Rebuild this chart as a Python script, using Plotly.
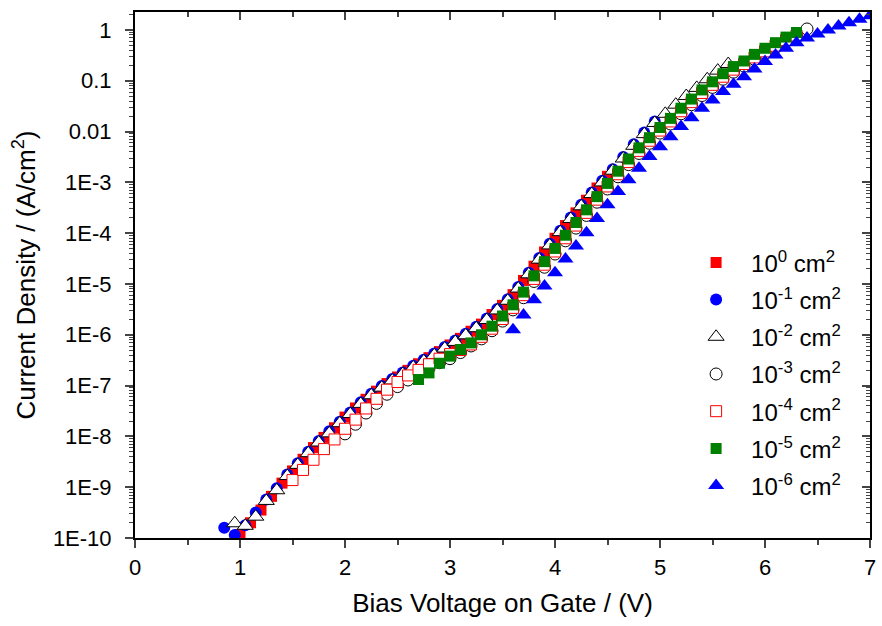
import plotly.graph_objects as go

# Gate bias (V) and log10 current density (A/cm^2) for each device area
v_a0 = [1.0, 1.1, 1.2, 1.3, 1.4, 1.5, 1.6, 1.7, 1.8, 1.9,
        2.0, 2.1, 2.2, 2.3, 2.4, 2.5, 2.6, 2.7, 2.8, 2.9,
        3.0, 3.1, 3.2, 3.3, 3.4, 3.5, 3.6, 3.7, 3.8, 3.9,
        4.0, 4.1, 4.2, 4.3, 4.4, 4.5]
logj_a0 = [-9.93, -9.70, -9.45, -9.18, -8.92, -8.68, -8.45, -8.22, -8.02, -7.83,
           -7.62, -7.44, -7.27, -7.11, -6.96, -6.83, -6.70, -6.57, -6.45, -6.33,
           -6.20, -6.07, -5.93, -5.79, -5.60, -5.42, -5.21, -4.93, -4.65, -4.37,
           -4.10, -3.85, -3.60, -3.35, -3.11, -2.88]

v_a1 = [0.85, 0.95,
        1.05, 1.15, 1.25, 1.35, 1.45, 1.55, 1.65, 1.75, 1.85, 1.95,
        2.05, 2.15, 2.25, 2.35, 2.45, 2.55, 2.65, 2.75, 2.85, 2.95,
        3.05, 3.15, 3.25, 3.35, 3.45, 3.55, 3.65, 3.75, 3.85, 3.95,
        4.05, 4.15, 4.25, 4.35, 4.45, 4.55, 4.65, 4.75, 4.85, 4.95]
logj_a1 = [-9.80, -9.94,
           -9.75, -9.50, -9.24, -9.02, -8.75, -8.53, -8.30, -8.09, -7.90, -7.71,
           -7.53, -7.33, -7.16, -7.01, -6.87, -6.74, -6.61, -6.49, -6.37, -6.24,
           -6.11, -5.98, -5.84, -5.68, -5.49, -5.30, -5.06, -4.78, -4.49, -4.21,
           -3.95, -3.69, -3.44, -3.20, -2.97, -2.74, -2.50, -2.25, -2.02, -1.80]

v_a2 = [0.95,
        1.05, 1.15, 1.25, 1.35, 1.45, 1.55, 1.65, 1.75, 1.85, 1.95,
        2.05, 2.15, 2.25, 2.35, 2.45, 2.55, 2.65, 2.75, 2.85, 2.95,
        3.05, 3.15, 3.25, 3.35, 3.45, 3.55, 3.65, 3.75, 3.85, 3.95,
        4.05, 4.15, 4.25, 4.35, 4.45, 4.55, 4.65, 4.75, 4.85, 4.95,
        5.05, 5.15, 5.25, 5.35, 5.45, 5.55, 5.65]
logj_a2 = [-9.71,
           -9.76, -9.58, -9.27, -9.06, -8.78, -8.56, -8.33, -8.12, -7.94, -7.74,
           -7.56, -7.36, -7.19, -7.04, -6.90, -6.77, -6.64, -6.52, -6.40, -6.27,
           -6.14, -6.01, -5.87, -5.71, -5.52, -5.33, -5.09, -4.81, -4.52, -4.24,
           -3.98, -3.72, -3.47, -3.23, -3.00, -2.77, -2.53, -2.28, -2.05, -1.83,
           -1.65, -1.47, -1.30, -1.14, -0.97, -0.80, -0.67]

v_a3 = [2.0, 2.1, 2.2, 2.3, 2.4, 2.5, 2.6, 2.7, 2.8, 2.9,
        3.0, 3.1, 3.2, 3.3, 3.4, 3.5, 3.6, 3.7, 3.8, 3.9,
        4.0, 4.1, 4.2, 4.3, 4.4, 4.5, 4.6, 4.7, 4.8, 4.9,
        5.0, 5.1, 5.2, 5.3, 5.4, 5.5, 5.6, 5.7, 5.8, 5.9,
        6.0, 6.1, 6.2, 6.3, 6.4]
logj_a3 = [-7.95, -7.76, -7.54, -7.35, -7.17, -7.02, -6.89, -6.77, -6.66, -6.55,
           -6.47, -6.35, -6.22, -6.08, -5.92, -5.73, -5.51, -5.27, -4.95, -4.67,
           -4.41, -4.15, -3.90, -3.65, -3.39, -3.13, -2.89, -2.65, -2.43, -2.23,
           -2.03, -1.85, -1.65, -1.47, -1.29, -1.13, -0.97, -0.83, -0.71, -0.58,
           -0.46, -0.35, -0.22, -0.11, 0.02]

v_a4 = [1.5, 1.6, 1.7, 1.8, 1.9,
        2.0, 2.1, 2.2, 2.3, 2.4, 2.5, 2.6, 2.7, 2.8, 2.9,
        3.0, 3.1, 3.2, 3.3, 3.4, 3.5, 3.6, 3.7, 3.8, 3.9,
        4.0, 4.1, 4.2, 4.3, 4.4, 4.5, 4.6, 4.7, 4.8, 4.9,
        5.0, 5.1, 5.2, 5.3, 5.4, 5.5, 5.6, 5.7, 5.8, 5.9,
        6.0, 6.1, 6.2, 6.3]
logj_a4 = [-8.86, -8.66, -8.46, -8.25, -8.06,
           -7.85, -7.67, -7.45, -7.26, -7.08, -6.93, -6.80, -6.69, -6.58, -6.47,
           -6.38, -6.30, -6.19, -6.04, -5.88, -5.69, -5.47, -5.22, -4.90, -4.62,
           -4.36, -4.10, -3.85, -3.60, -3.34, -3.08, -2.84, -2.60, -2.38, -2.18,
           -1.98, -1.80, -1.60, -1.42, -1.24, -1.08, -0.92, -0.78, -0.67, -0.54,
           -0.42, -0.31, -0.20, -0.11]

v_a5 = [2.7, 2.8, 2.9,
        3.0, 3.1, 3.2, 3.3, 3.4, 3.5, 3.6, 3.7, 3.8, 3.9,
        4.0, 4.1, 4.2, 4.3, 4.4, 4.5, 4.6, 4.7, 4.8, 4.9,
        5.0, 5.1, 5.2, 5.3, 5.4, 5.5, 5.6, 5.7, 5.8, 5.9,
        6.0, 6.1, 6.2, 6.3]
logj_a5 = [-6.88, -6.75, -6.56,
           -6.42, -6.29, -6.16, -6.00, -5.83, -5.63, -5.41, -5.16, -4.84, -4.56,
           -4.30, -4.04, -3.79, -3.54, -3.28, -3.02, -2.78, -2.54, -2.32, -2.12,
           -1.92, -1.74, -1.54, -1.36, -1.18, -1.02, -0.86, -0.72, -0.61, -0.48,
           -0.36, -0.25, -0.14, -0.05]

v_a6 = [3.6, 3.7, 3.8, 3.9,
        4.0, 4.1, 4.2, 4.3, 4.4, 4.5, 4.6, 4.7, 4.8, 4.9,
        5.0, 5.1, 5.2, 5.3, 5.4, 5.5, 5.6, 5.7, 5.8, 5.9,
        6.0, 6.1, 6.2, 6.3, 6.4, 6.5, 6.6, 6.7, 6.8, 6.9, 7.0]
logj_a6 = [-5.90, -5.61, -5.31, -5.04,
           -4.78, -4.51, -4.25, -3.99, -3.71, -3.44, -3.18, -2.95, -2.72, -2.49,
           -2.30, -2.10, -1.90, -1.73, -1.54, -1.38, -1.21, -1.07, -0.92, -0.77,
           -0.62, -0.49, -0.36, -0.25, -0.16, -0.08, 0.00, 0.08, 0.14, 0.21, 0.28]

series_names = ["10<sup>0</sup> cm<sup>2</sup>", "10<sup>-1</sup> cm<sup>2</sup>",
                "10<sup>-2</sup> cm<sup>2</sup>", "10<sup>-3</sup> cm<sup>2</sup>",
                "10<sup>-4</sup> cm<sup>2</sup>", "10<sup>-5</sup> cm<sup>2</sup>",
                "10<sup>-6</sup> cm<sup>2</sup>"]

y_tickvals = [1e-10, 1e-9, 1e-8, 1e-7, 1e-6, 1e-5, 1e-4, 1e-3, 1e-2, 1e-1, 1]
y_ticktext = ["1E-10", "1E-9", "1E-8", "1E-7", "1E-6", "1E-5", "1E-4", "1E-3",
              "0.01", "0.1", "1"]
x_tickvals = [0, 1, 2, 3, 4, 5, 6, 7]

# marker style per series: (symbol, fill, outline colour, outline width, size)
styles = [
    ("square", "#ff0000", "#ff0000", 0, 11),
    ("circle", "#0000ff", "#0000ff", 0, 12),
    ("triangle-up", "white", "black", 1, 14),
    ("circle", "white", "black", 1, 12),
    ("square", "white", "#ff0000", 1, 11),
    ("square", "#008000", "#008000", 0, 11),
    ("triangle-up", "#0000ff", "#0000ff", 0, 14),
]

data = [(v_a0, logj_a0), (v_a1, logj_a1), (v_a2, logj_a2), (v_a3, logj_a3),
        (v_a4, logj_a4), (v_a5, logj_a5), (v_a6, logj_a6)]

FONT = "Liberation Sans, Arial, sans-serif"

fig = go.Figure()
for i, ((vx, lj), name, st) in enumerate(zip(data, series_names, styles)):
    sym, fill, edge, lw, size = st
    fig.add_trace(go.Scatter(
        x=vx, y=[10 ** v for v in lj], mode="markers", name=name,
        legendgroup=f"g{i}",
        marker=dict(symbol=sym, color=fill, size=size,
                    line=dict(color=edge, width=lw)),
    ))

# empty trace so the mirrored top/right axes are drawn
fig.add_trace(go.Scatter(x=[], y=[], xaxis="x2", yaxis="y2", showlegend=False,
                         hoverinfo="skip"))

minor_y = [k * 10.0 ** n for n in range(-10, 1) for k in range(2, 10)]
yrange = [-10, 0.354]

fig.update_layout(
    width=882, height=626,
    margin=dict(l=135, r=6, t=12, b=88),
    paper_bgcolor="white", plot_bgcolor="white",
    font=dict(family=FONT, size=22, color="black"),
    showlegend=True,
    legend=dict(x=0.743, y=0.566, xanchor="left", yanchor="top",
                bgcolor="rgba(0,0,0,0)", font=dict(size=24, family=FONT),
                tracegroupgap=3, itemwidth=60, itemsizing="trace"),
    xaxis=dict(range=[0, 7], tickvals=x_tickvals, ticks="outside", ticklen=8,
               tickwidth=2, linewidth=2, linecolor="black", showline=True,
               showgrid=False, zeroline=False, ticklabeloverflow="allow",
               tickfont=dict(size=22, family=FONT), ticklabelstandoff=1,
               minor=dict(dtick=0.5, ticks="outside", ticklen=5, tickwidth=2,
                          showgrid=False),
               title=dict(text="Bias Voltage on Gate / (V)",
                          font=dict(size=26, family=FONT), standoff=14)),
    xaxis2=dict(range=[0, 7], overlaying="x", side="top", anchor="y",
                tickvals=x_tickvals, ticks="inside", ticklen=8, tickwidth=2,
                linewidth=2, linecolor="black", showline=True,
                showticklabels=False, showgrid=False, zeroline=False,
                minor=dict(dtick=0.5, ticks="inside", ticklen=5, tickwidth=2,
                           showgrid=False)),
    yaxis=dict(type="log", range=yrange, tickvals=y_tickvals, ticktext=y_ticktext,
               ticks="outside", ticklen=8, tickwidth=2, linewidth=2,
               linecolor="black", showline=True, showgrid=False, zeroline=False,
               tickfont=dict(size=22, family=FONT), ticklabelstandoff=9,
               minor=dict(tickvals=minor_y, ticks="outside", ticklen=4,
                          tickwidth=1, showgrid=False),
               title=dict(text="Current Density / (A/cm<sup>2</sup>)",
                          font=dict(size=26, family=FONT), standoff=10)),
    yaxis2=dict(type="log", range=yrange, overlaying="y", side="right", anchor="x",
                tickvals=y_tickvals, ticks="inside", ticklen=8, tickwidth=2,
                linewidth=2, linecolor="black", showline=True,
                showticklabels=False, showgrid=False, zeroline=False,
                minor=dict(tickvals=minor_y, ticks="inside", ticklen=4,
                           tickwidth=1, showgrid=False)),
)

fig.write_html("out.html")
